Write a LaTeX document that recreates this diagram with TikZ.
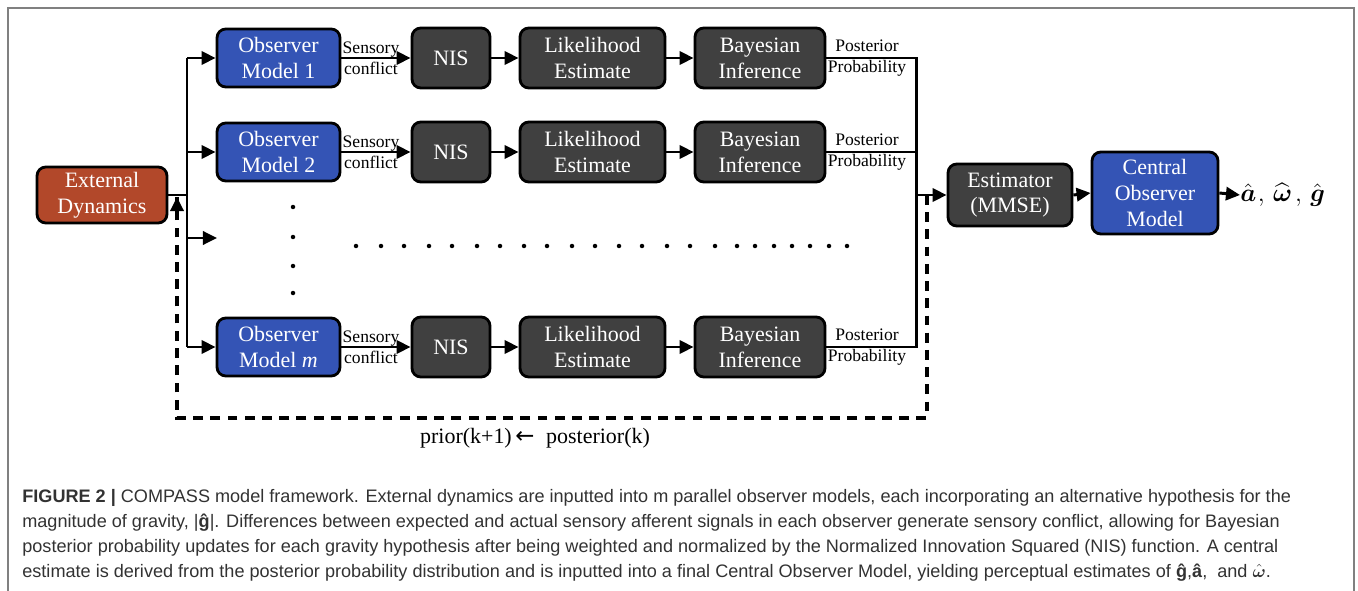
\documentclass[tikz,border=0pt]{standalone}
\usepackage{amsmath}
\usepackage{fontspec}
\setmainfont{Liberation Serif}
\newfontfamily\capfont{Liberation Sans}
\newfontfamily\symfont{DejaVu Sans}
\usetikzlibrary{arrows.meta}
\definecolor{obsblue}{RGB}{52,84,181}
\definecolor{extred}{RGB}{178,72,42}
\definecolor{darkbox}{RGB}{64,64,64}
\definecolor{capgray}{RGB}{50,50,50}
\tikzset{
  box/.style={draw=black, line width=1.6pt, rounded corners=5pt, text=white, align=center,
    font=\fontsize{12.5}{14.7}\selectfont, inner sep=0pt},
  obsbox/.style={box, fill=obsblue, minimum width=2.46cm, minimum height=1.16cm},
  nisbox/.style={box, fill=darkbox, minimum width=1.56cm, minimum height=1.2cm},
  likebox/.style={box, fill=darkbox, minimum width=2.9cm, minimum height=1.2cm},
  baybox/.style={box, fill=darkbox, minimum width=2.6cm, minimum height=1.2cm},
  wire/.style={line width=1.7pt},
  arr/.style={line width=1.7pt, -{Triangle[length=8pt,width=7.5pt]}},
  fbline/.style={line width=1.8pt, dash pattern=on 5.6pt off 4.2pt},
  small/.style={align=center, inner sep=0pt, font=\fontsize{10}{12}\selectfont},
  capline/.style={anchor=base west, inner sep=0pt, text=capgray, font=\capfont\fontsize{10.3}{12}\selectfont},
  dot/.style={fill=black}
}
\begin{document}
\begin{tikzpicture}[x=0.02cm,y=-0.02cm]
\useasboundingbox (0,0) rectangle (1358,591);
% outer frame
\draw[gray, line width=0.7pt] (8,591) -- (8,8) -- (1354,8) -- (1354,591);

% external dynamics
\node[box, fill=extred, minimum width=2.6cm, minimum height=1.12cm] (ext) at (102,195) {External\\Dynamics};

% rows
\foreach \r/\y/\lab in {1/58/1, 2/152/2, m/347/\textit{m}}{
  \node[obsbox] (obs\r) at (278.5,\y) {Observer\\Model \lab};
  \node[nisbox] (nis\r) at (451,\y) {NIS};
  \node[likebox] (like\r) at (592.5,\y) {Likelihood\\Estimate};
  \node[baybox] (bay\r) at (760,\y) {Bayesian\\Inference};
  \node[small] (sc\r) at (371,\y) {Sensory\\conflict};
  \node[small] (pp\r) at (867,\y) {Posterior\\Probability};
  \draw[arr] (obs\r.east) -- (nis\r.west);
  \draw[arr] (nis\r.east) -- (like\r.west);
  \draw[arr] (like\r.east) -- (bay\r.west);
}

% estimator and central model
\node[box, fill=darkbox, minimum width=2.48cm, minimum height=1.24cm] (est) at (1010,195) {Estimator\\(MMSE)};
\node[box, fill=obsblue, minimum width=2.52cm, minimum height=1.64cm] (cen) at (1155,193) {Central\\Observer\\Model};
\node[inner sep=0pt, anchor=west, font=\fontsize{15}{17}\selectfont] (out) at (1240,195)
  {$\hat{\boldsymbol a}\mkern1mu,\, \widehat{\boldsymbol\omega}\mkern2mu,\, \hat{\boldsymbol g}$};

% splitting bus
\coordinate (sp) at (187,195);
\coordinate (dotarr) at (217,238);
\draw[wire] (ext.east) -- (sp);
\draw[wire] (obs1.west -| sp) -- (obsm.west -| sp);
\draw[arr] (obs1.west -| sp) -- (obs1.west);
\draw[arr] (obs2.west -| sp) -- (obs2.west);
\draw[arr] (obsm.west -| sp) -- (obsm.west);
\draw[arr] (dotarr -| sp) -- (dotarr);

% merging bus
\coordinate (bus) at (916,195);
\draw[wire] (bay1.east) -- (bay1.east -| bus) -- (baym.east -| bus) -- (baym.east);
\draw[wire] (bay2.east) -- (bay2.east -| bus);
\draw[arr] (bus) -- (est.west);
\draw[arr] (est.east) -- (cen.west);
\draw[arr] (cen.east) -- (out.west);

% feedback
\coordinate (fbR) at (927,195);
\coordinate (fbBR) at (927,418);
\coordinate (fbBL) at (177,418);
\coordinate (fbL) at (177,197);
\draw[fbline] (fbR) -- (fbBR) -- (fbBL) -- (fbL);
\draw[arr] (177,215) -- (fbL);
\node[font=\fontsize{12.5}{14}\selectfont, inner sep=0pt] (prior) at (535,438) {prior(k+1)\,{\symfont\fontsize{13}{14}\selectfont ←}\; posterior(k)};

% dots
\foreach \yy in {207,237,266,293} \fill[dot] (293,\yy) circle (0.045cm);
\foreach \xx in {356,381,404,429,452,477,500,524,547,572,595,619,642,667,690,715,737,755,774,792,810,829,847}
  \fill[dot] (\xx,246) circle (0.045cm);

% caption
\node[capline] (c1) at (22,502) {\textbf{FIGURE 2 |} COMPASS model framework. External dynamics are inputted into m parallel observer models, each incorporating an alternative hypothesis for the};
\node[capline] (c2) at (22,527) {magnitude of gravity, |\textbf{ĝ}|. Differences between expected and actual sensory afferent signals in each observer generate sensory conflict, allowing for Bayesian};
\node[capline] (c3) at (22,552) {posterior probability updates for each gravity hypothesis after being weighted and normalized by the Normalized Innovation Squared (NIS) function. A central};
\node[capline] (c4) at (22,577) {estimate is derived from the posterior probability distribution and is inputted into a final Central Observer Model, yielding perceptual estimates of \textbf{ĝ},\textbf{â}, \ and $\hat{\boldsymbol\omega}$.};
\end{tikzpicture}
\end{document}
